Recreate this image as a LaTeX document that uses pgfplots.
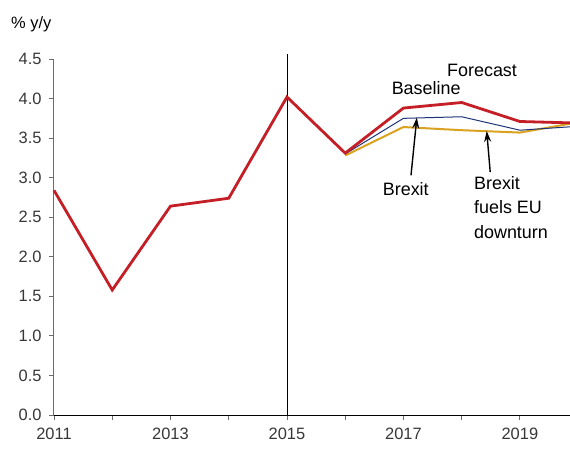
\documentclass[border=0pt]{standalone}
\usepackage{pgfplots}
\pgfplotsset{compat=1.18}
\usepackage{fontspec}
\setmainfont{Liberation Sans}
\usetikzlibrary{arrows.meta}
\definecolor{cred}{RGB}{196,30,38}
\definecolor{cblue}{RGB}{30,50,120}
\definecolor{cgold}{RGB}{218,162,30}
\definecolor{tickgray}{RGB}{55,55,55}
\begin{document}
\begin{tikzpicture}
\begin{axis}[
  at={(0,0)}, anchor=south west,
  scale only axis, width=516bp, height=356bp,
  xmin=2011, xmax=2019.86, ymin=0, ymax=4.5,
  axis x line*=bottom, axis y line*=left,
  axis line style={-},
  x axis line style={black, line width=0.8bp},
  y axis line style={gray!85!black, line width=1bp},
  xtick={2011,...,2020},
  xticklabels={2011,,2013,,2015,,2017,,2019,},
  ytick={0,0.5,...,4.5},
  yticklabel style={/pgf/number format/fixed, /pgf/number format/fixed zerofill, /pgf/number format/precision=1, xshift=-4bp},
  /pgf/number format/assume math mode=true,
  tick align=outside,
  major tick length=5bp,
  tick style={gray!85!black, line width=0.8bp},
  ticklabel style={font=\fontsize{16.5}{19}\selectfont, text=tickgray},
  xticklabel style={yshift=-5bp},
  clip=false,
]
\draw[black, line width=0.8bp] (axis cs:2015,0) -- (axis cs:2015,4.56);
\addplot[cgold, line width=2bp] coordinates {(2016,3.28) (2017,3.64) (2018,3.60) (2019,3.57) (2020,3.70)};
\addplot[cblue, line width=1bp] coordinates {(2016,3.30) (2017,3.75) (2018,3.77) (2019,3.60) (2020,3.65)};
\addplot[cred, line width=2.8bp] coordinates {(2011,2.84) (2012,1.58) (2013,2.64) (2014,2.74) (2015,4.02) (2016,3.31) (2017,3.88) (2018,3.95) (2019,3.71) (2020,3.69)};
\node[font=\fontsize{18}{21}\selectfont] at (axis cs:2018.35,4.35) {Forecast};
\node[font=\fontsize{18}{21}\selectfont] at (axis cs:2017.39,4.13) {Baseline};
\node[font=\fontsize{18}{21}\selectfont] at (axis cs:2017.04,2.86) {Brexit};
\node[font=\fontsize{18}{24.5}\selectfont, align=left, anchor=north west, inner sep=0pt] at (axis cs:2018.21,3.02) {Brexit\\fuels EU\\downturn};
\draw[-{Stealth[length=11bp,width=7bp]}, line width=1.4bp] (axis cs:2017.13,3.03) -- (axis cs:2017.23,3.76);
\draw[-{Stealth[length=11bp,width=7bp]}, line width=1.4bp] (axis cs:2018.49,3.07) -- (axis cs:2018.43,3.59);
\end{axis}
\node[anchor=west, font=\fontsize{16.5}{19}\selectfont, text=black, inner sep=0pt] at (-43bp,391bp) {\% y/y};
\pgfresetboundingbox
\path[use as bounding box] (-54bp,-34bp) rectangle (516bp,415bp);
\end{tikzpicture}
\end{document}
